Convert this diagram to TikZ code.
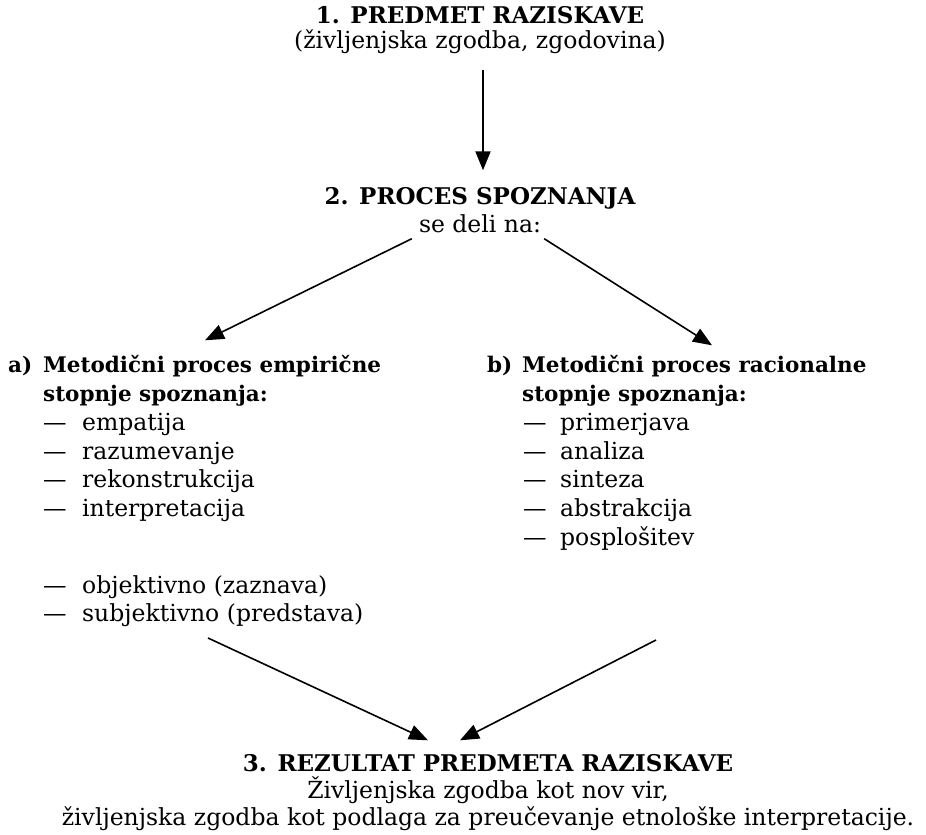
\documentclass[tikz,border=0pt]{standalone}
\usepackage{fontspec}
\setmainfont{DejaVu Serif}
\usetikzlibrary{arrows.meta}

\tikzset{
  naslov/.style={font=\fontsize{23}{28}\selectfont\bfseries, inner sep=0pt, text height=17pt, text depth=6pt},
  opis/.style={font=\fontsize{23.5}{28}\selectfont, inner sep=0pt, text height=17pt, text depth=6pt},
  glava/.style={font=\fontsize{21.5}{28}\selectfont\bfseries, anchor=west, inner sep=0pt, text height=17pt, text depth=6pt},
  alineja/.style={font=\fontsize{23.5}{28}\selectfont, anchor=west, inner sep=0pt, text height=17pt, text depth=6pt},
  puscica/.style={-{Triangle[length=19pt,width=15pt]}, line width=1.6pt},
}

\begin{document}
\begin{tikzpicture}[x=1pt, y=-1pt]
  \useasboundingbox (0,0) rectangle (926,835);
  % 1. predmet raziskave
  \node[naslov] (predmet) at (480,18) {1. PREDMET RAZISKAVE};
  \node[opis] (zgodba) at (480,43) {(življenjska zgodba, zgodovina)};
  % 2. proces spoznanja
  \node[naslov] (proces) at (480,199) {2. PROCES SPOZNANJA};
  \node[opis] (deli) at (480,227) {se deli na:};
  % a) empiricna stopnja
  \node[glava] (glavaA) at (8,367) {\makebox[35pt][l]{a)}Metodični proces empirične};
  \node[glava] (stopnjaA) at (43,396) {stopnje spoznanja:};
  \foreach \i/\beseda in {1/empatija, 2/razumevanje, 3/rekonstrukcija, 4/interpretacija} {
    \pgfmathsetmacro{\ypos}{396 + \i*28.8}
    \node[alineja] (a\i) at (43,\ypos) {\makebox[39pt][l]{—}\beseda};
  }
  \node[alineja] (objektivno) at (43,588) {\makebox[39pt][l]{—}objektivno (zaznava)};
  \node[alineja] (subjektivno) at (43,616) {\makebox[39pt][l]{—}subjektivno (predstava)};
  % b) racionalna stopnja
  \node[glava] (glavaB) at (487,367) {\makebox[35pt][l]{b)}Metodični proces racionalne};
  \node[glava] (stopnjaB) at (522,396) {stopnje spoznanja:};
  \foreach \i/\beseda in {1/primerjava, 2/analiza, 3/sinteza, 4/abstrakcija, 5/posplošitev} {
    \pgfmathsetmacro{\ypos}{396 + \i*28.8}
    \node[alineja] (b\i) at (523,\ypos) {\makebox[37pt][l]{—}\beseda};
  }
  % 3. rezultat
  \node[naslov] (rezultat) at (488,766) {3. REZULTAT PREDMETA RAZISKAVE};
  \node[opis] (vir) at (488,793) {Življenjska zgodba kot nov vir,};
  \node[opis] (podlaga) at (488,820) {življenjska zgodba kot podlaga za preučevanje etnološke interpretacije.};
  \coordinate (izhodA) at (208,638);
  \coordinate (izhodB) at (656,640);
  % puscice
  \draw[puscica, line width=2pt, shorten <=15pt, shorten >=17pt] ([xshift=3pt]zgodba.south) -- ([xshift=3pt]proces.north);
  \draw[puscica] ([xshift=-7pt]deli.south west) -- ([xshift=197pt,yshift=15pt]glavaA.north west);
  \draw[puscica] ([xshift=3pt]deli.south east) -- ([xshift=225pt,yshift=10pt]glavaB.north west);
  \draw[puscica] (izhodA) -- ([xshift=-60pt,yshift=14pt]rezultat.north);
  \draw[puscica] (izhodB) -- ([xshift=-28pt,yshift=14pt]rezultat.north);
\end{tikzpicture}
\end{document}
